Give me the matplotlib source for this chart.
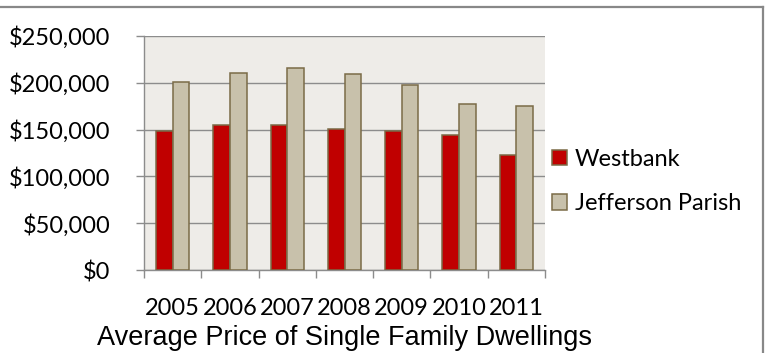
import numpy as np
import matplotlib
matplotlib.use("Agg")
import matplotlib.pyplot as plt
from matplotlib.lines import Line2D
from matplotlib.ticker import FuncFormatter, FixedLocator

years = ["2005", "2006", "2007", "2008", "2009", "2010", "2011"]
westbank = [148000, 154500, 154500, 150500, 148000, 144500, 123000]
jefferson = [200500, 211000, 216000, 209000, 198000, 177000, 175500]

red = "#C00000"
tan = "#C8C1AB"
edge = "#7A6B47"
grid_c = "#8C8C8C"

plt.rcParams["font.family"] = ["Lato", "DejaVu Sans"]

fig = plt.figure(figsize=(7.69, 3.53), dpi=100)
ax = fig.add_axes([0.1873, 0.235, 0.7087 - 0.1873, 0.898 - 0.235])
ax.set_facecolor("#EEECE8")

x = np.arange(len(years))
w = 0.29
ax.bar(x - w / 2, westbank, width=w, color=red, edgecolor=edge, linewidth=1.1,
       label="Westbank", zorder=3)
ax.bar(x + w / 2, jefferson, width=w, color=tan, edgecolor=edge, linewidth=1.1,
       label="Jefferson Parish", zorder=3)

ax.set_xlim(-0.5, len(years) - 0.5)
ax.set_ylim(0, 250000)
ax.set_yticks(np.arange(0, 250001, 50000))
ax.yaxis.set_major_formatter(FuncFormatter(lambda v, p: "${:,.0f}".format(v)))
ax.set_xticks(x)
ax.set_xticklabels(years)
ax.xaxis.set_minor_locator(FixedLocator(np.arange(-0.5, len(years), 1.0)))

ax.grid(axis="y", color=grid_c, linewidth=1.0, zorder=0)
ax.set_axisbelow(True)
for s in ["top", "right"]:
    ax.spines[s].set_visible(False)
for s in ["left", "bottom"]:
    ax.spines[s].set_color(grid_c)
    ax.spines[s].set_linewidth(1.0)

ax.tick_params(axis="y", length=6, color=grid_c, width=1.0, pad=18, labelsize=17)
ax.tick_params(axis="x", which="major", length=0, pad=20, labelsize=17)
ax.tick_params(axis="x", which="minor", length=6, color=grid_c, width=1.0)

ax.set_xlabel("Average Price of Single Family Dwellings", family="Liberation Sans",
              fontsize=19.5, labelpad=4.5)

leg = ax.legend(loc="center left", bbox_to_anchor=(1.0, 0.378), frameon=False,
                fontsize=17, handlelength=0.65, handleheight=0.65, handletextpad=0.3,
                labelspacing=1.0, borderaxespad=0.0, borderpad=0.3)

# chart border (top and right visible)
fig.add_artist(Line2D([0, 0.9925], [0.979, 0.979], color="#888888", linewidth=1.6,
                      transform=fig.transFigure))
fig.add_artist(Line2D([0.9925, 0.9925], [0, 0.979], color="#888888", linewidth=1.6,
                      transform=fig.transFigure))

fig.savefig("out.png", dpi=100)
